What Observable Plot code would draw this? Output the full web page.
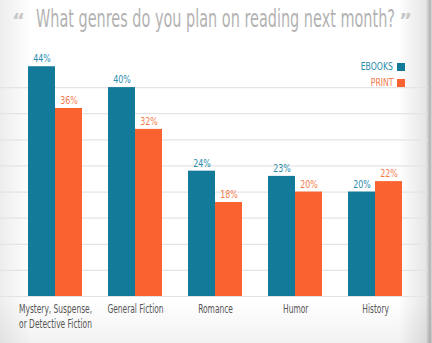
<!DOCTYPE html>
<html>
<head>
<meta charset="utf-8">
<script src="https://cdn.jsdelivr.net/npm/d3@7"></script>
<script src="https://cdn.jsdelivr.net/npm/@observablehq/plot@0.6"></script>
<style>
  html, body { margin: 0; padding: 0; background: #fff; }
  #wrap {
    position: relative; width: 432px; height: 343px; overflow: hidden;
    font-family: "DejaVu Sans", sans-serif;
    background:
      linear-gradient(to right, rgba(0,0,0,0.07) 0px, rgba(0,0,0,0) 32px, rgba(0,0,0,0) 398px, rgba(0,0,0,0.10) 426px, rgba(0,0,0,0.30) 430px, rgba(0,0,0,0.15) 432px),
      linear-gradient(to bottom, rgba(0,0,0,0) 300px, rgba(0,0,0,0.05) 343px),
      #fff;
  }
  #title { height: 40px; position: relative; color: #b3b3b3; white-space: nowrap; }
  #title .main { position: absolute; left: 36px; top: 7px; font-size: 24px; line-height: 24px; transform-origin: 0 0; }
  #title .q { position: absolute; top: 10px; font-size: 20px; line-height: 20px; font-weight: bold; color: #c8c8c8; }
  #legend { position: absolute; right: 27px; top: 59px; font-size: 11px; line-height: 16px; text-align: right; }
  #legend div { display: flex; align-items: center; justify-content: flex-end; }
  #legend .t { display: inline-block; transform: scaleX(0.7); transform-origin: 100% 50%; }
  #legend span.sw { display: inline-block; width: 8px; height: 8px; margin-left: 4px; }
  #chart svg { display: block; }
</style>
</head>
<body>
<div id="wrap">
  <div id="title">
    <span class="q" style="left:12px">“</span>
    <span class="main" id="tin">What genres do you plan on reading next month?</span>
    <span class="q" style="left:399px">”</span>
  </div>
  <div id="chart"></div>
  <div id="legend">
    <div style="color:#2a8cae"><span class="t">EBOOKS</span><span class="sw" style="background:#137a9a"></span></div>
    <div style="color:#f47a4e"><span class="t">PRINT</span><span class="sw" style="background:#fa6230"></span></div>
  </div>
</div>
<script>
const genres = ["Mystery, Suspense,\nor Detective Fiction", "General Fiction", "Romance", "Humor", "History"];
const ebooks = [44, 40, 24, 23, 20];
const printed = [36, 32, 18, 20, 22];
const gridTicks = [0, 5, 10, 15, 20, 25, 30, 35, 40];

const teal = "#137a9a", orange = "#fa6230";
const ebookData = genres.map((g, i) => ({genre: g, value: ebooks[i]}));
const printData = genres.map((g, i) => ({genre: g, value: printed[i]}));

const chart = Plot.plot({
  width: 432,
  height: 303,
  marginLeft: 0,
  marginRight: 4,
  marginTop: 21,
  marginBottom: 47,
  style: {fontFamily: "'DejaVu Sans', sans-serif", background: "transparent"},
  x: {domain: genres, range: [15, 415], paddingInner: 0.325, paddingOuter: 0.1625, label: null},
  y: {domain: [0, 45], axis: null},
  marks: [
    Plot.ruleY(gridTicks, {stroke: "#e4e4e4", strokeWidth: 1.2}),
    Plot.barY(ebookData, {x: "genre", y: "value", fill: teal, insetRight: 27}),
    Plot.barY(printData, {x: "genre", y: "value", fill: orange, insetLeft: 27}),
    Plot.text(ebookData, {x: "genre", y: "value", text: d => d.value + "%", dx: -13.5, dy: -8, fill: "#2a8cae", fontSize: 11}),
    Plot.text(printData, {x: "genre", y: "value", text: d => d.value + "%", dx: 13.5, dy: -8, fill: "#f47a4e", fontSize: 11}),
    Plot.axisX({tickSize: 0, tickPadding: 6, fontSize: 12.5, fill: "#555", lineHeight: 1.18, label: null})
  ]
});
document.getElementById("chart").appendChild(chart);

// condense SVG text horizontally around each text's centre (no narrow font installed)
chart.querySelectorAll("text").forEach(t => {
  const b = t.getBBox();
  const cx = b.x + b.width / 2;
  const fsEl = t.closest("[font-size]");
  const fs = fsEl ? fsEl.getAttribute("font-size") : "";
  const k = fs === "11" ? 0.72 : 0.6;
  const old = t.getAttribute("transform") || "";
  t.setAttribute("transform", `${old} translate(${cx},0) scale(${k},1) translate(${-cx},0)`);
});

// fit title to reference width (~359px)
const tin = document.getElementById("tin");
const w = tin.getBoundingClientRect().width;
tin.style.transform = `scaleX(${359 / w})`;
</script>
</body>
</html>
